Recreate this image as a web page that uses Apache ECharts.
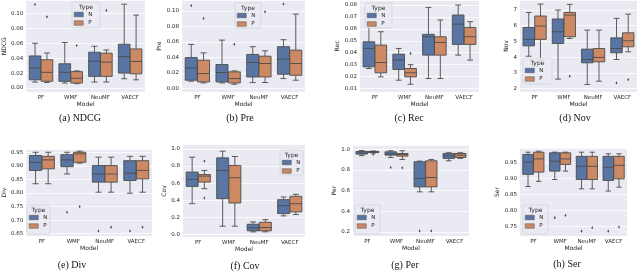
<!DOCTYPE html>
<html><head><meta charset="utf-8">
<script src="https://cdn.jsdelivr.net/npm/echarts@6/dist/echarts.min.js"></script>
<style>html,body{margin:0;padding:0;background:#fff}#c{width:640px;height:274px}</style>
</head><body><div id="c"></div>
<script>
// ---------- DATA ----------
const models = ['PF', 'WMF', 'NeuMF', 'VAECF'];
const hues = ['N', 'P'];
// each row: [min, Q1, median, Q3, max] for PF, WMF, NeuMF, VAECF
const ndcgN = [[0.008,0.011,0.027,0.043,0.060],[0.0067,0.009,0.021,0.0325,0.061],[0.008,0.0156,0.036,0.048,0.056],[0.0124,0.020,0.042,0.0587,0.1124]];
const ndcgP = [[0.0075,0.009,0.021,0.038,0.047],[0.0058,0.0067,0.013,0.022,0.023],[0.008,0.0156,0.0347,0.0467,0.051],[0.011,0.019,0.0356,0.0524,0.0978]];
const ndcgOut = [[0,0,0.112],[0,1,0.0955],[1,1,0.057],[2,1,0.104]];

const preN = [[0.0095,0.0108,0.0267,0.040,0.057],[0.0073,0.0086,0.0207,0.031,0.0625],[0.0078,0.015,0.0336,0.044,0.054],[0.0129,0.0185,0.038,0.054,0.063]];
const preP = [[0.0073,0.0086,0.0194,0.0366,0.046],[0.0056,0.0073,0.0129,0.0216,0.0228],[0.0078,0.015,0.0323,0.0418,0.0487],[0.0108,0.0172,0.0323,0.0496,0.096]];
const preOut = [[0,0,0.107],[0,1,0.0905],[1,1,0.057],[2,1,0.099],[3,0,0.109]];

const recN = [[0.0268,0.0282,0.0436,0.0492,0.066],[0.017,0.026,0.0338,0.0388,0.0436],[0.0184,0.038,0.0534,0.0554,0.078],[0.038,0.047,0.064,0.0716,0.080]];
const recP = [[0.0198,0.0232,0.0318,0.0464,0.0576],[0.0136,0.0198,0.0232,0.0268,0.030],[0.0184,0.038,0.0486,0.0534,0.0674],[0.0338,0.047,0.0534,0.0612,0.066]];
const recOut = [[1,1,0.0394]];

const novN = [[4.06,4.72,5.13,5.89,6.85],[2.6,4.87,5.62,6.43,7.0],[2.26,3.64,3.85,4.51,5.72],[3.85,4.28,4.55,5.23,6.47]];
const novP = [[3.8,5.13,5.98,6.62,7.38],[5.19,5.3,6.68,6.85,7.36],[2.47,3.70,3.98,4.55,5.72],[4.34,4.66,5.04,5.55,6.74]];
const novOut = [[1,1,2.79],[3,0,2.36],[3,1,2.57]];

const divN = [[0.834,0.883,0.913,0.938,0.950],[0.870,0.897,0.922,0.941,0.950],[0.803,0.840,0.870,0.901,0.932],[0.799,0.846,0.873,0.919,0.935]];
const divP = [[0.834,0.889,0.922,0.935,0.950],[0.910,0.913,0.944,0.950,0.954],[0.803,0.840,0.870,0.901,0.932],[0.803,0.852,0.883,0.919,0.935]];
const divOut = [[1,0,0.729],[1,1,0.750],[2,0,0.660],[2,1,0.674],[3,0,0.660],[3,1,0.674]];

const covN = [[0.36,0.562,0.643,0.729,0.903],[0.097,0.419,0.748,0.895,0.973],[0.031,0.043,0.078,0.12,0.147],[0.217,0.244,0.337,0.407,0.438]];
const covP = [[0.535,0.612,0.682,0.70,0.748],[0.097,0.368,0.663,0.806,0.911],[0.031,0.043,0.081,0.143,0.174],[0.233,0.264,0.36,0.446,0.469]];
const covOut = [[0,1,0.857],[0,1,0.426]];

const perN = [[0.94,0.955,0.965,0.98,0.99],[0.922,0.945,0.955,0.977,0.987],[0.589,0.637,0.718,0.88,0.887],[0.89,0.913,0.938,0.961,0.968]];
const perP = [[0.965,0.97,0.975,0.98,0.985],[0.903,0.935,0.951,0.961,0.987],[0.589,0.637,0.728,0.89,0.903],[0.913,0.922,0.945,0.961,0.968]];
const perOut = [[0,1,0.952],[1,0,0.825],[1,1,0.822],[2,0,0.21],[2,1,0.21]];

const serN = [[0.874,0.912,0.95,0.974,0.981],[0.896,0.922,0.953,0.979,0.981],[0.867,0.896,0.937,0.968,0.981],[0.86,0.893,0.934,0.968,0.976]];
const serP = [[0.89,0.919,0.960,0.981,0.984],[0.922,0.943,0.960,0.979,0.981],[0.867,0.896,0.937,0.968,0.981],[0.872,0.898,0.94,0.968,0.976]];
const serOut = [[1,0,0.777],[1,1,0.784],[2,0,0.735],[2,1,0.746],[3,0,0.735],[3,1,0.748]];

// ---------- LAYOUT ----------
const panels = [
  {name:'NDCG', n:ndcgN, p:ndcgP, out:ndcgOut, cap:'(a) NDCG', g:[22,0,123,92.5], y:[-0.006,0.118,6,2], ng:15, lg:[72,2,28,26], cp:[80,118.5]},
  {name:'Pre',  n:preN,  p:preP,  out:preOut,  cap:'(b) Pre',  g:[182,0,123,92], y:[-0.0044,0.1142,6,2], ng:16, lg:[235,3,26,25], cp:[240,118.5]},
  {name:'Rec',  n:recN,  p:recP,  out:recOut,  cap:'(c) Rec',  g:[360,0,119,92], y:[0.0071,0.0842,7,2], ng:18, lg:[365,3,27,25], cp:[409,118.5]},
  {name:'Nov',  n:novN,  p:novP,  out:novOut,  cap:'(d) Nov',  g:[520,0,117,92], y:[1.78,7.64,6,0], ng:7, lg:[523,58,29,26], cp:[575,118.5]},
  {name:'Div',  n:divN,  p:divP,  out:divOut,  cap:'(e) Div',  g:[23,149,129,87], y:[0.6416,0.962,6,2], ng:16, lg:[27,205,23,29], cp:[72,265]},
  {name:'Cov',  n:covN,  p:covP,  out:covOut,  cap:'(f) Cov',  g:[183,144.5,122,93], y:[-0.035,1.051,5,1], ng:12, lg:[280,150,23,25], cp:[245,266]},
  {name:'Per',  n:perN,  p:perP,  out:perOut,  cap:'(g) Per',  g:[353,145,116,91], y:[0.161,1.043,4,1], ng:13, lg:[355,205,25,29], cp:[405,265]},
  {name:'Ser',  n:serN,  p:serP,  out:serOut,  cap:'(h) Ser',  g:[520,148,107,88], y:[0.72,0.994,5,2], ng:15, lg:[523,205,25,29], cp:[567,264]}
];

const fillN = '#5875a4', fillP = '#cc8963', edge = '#4c4c4c';
const textCol = '#262626';
const sans = 'DejaVu Sans';

function boxRender(fill) {
  return function (params, api) {
    const cat = api.value(0), hue = api.value(1);
    const band = api.size([1, 0])[0];
    const cx = api.coord([cat, api.value(2)])[0] + (hue ? 0.2 : -0.2) * band;
    const hw = 0.196 * band;
    const ys = [2, 3, 4, 5, 6].map(i => api.coord([cat, api.value(i)])[1]);
    const ls = {stroke: edge, lineWidth: 0.9};
    return {type: 'group', children: [
      {type: 'line', shape: {x1: cx, y1: ys[3], x2: cx, y2: ys[4]}, style: ls},
      {type: 'line', shape: {x1: cx, y1: ys[1], x2: cx, y2: ys[0]}, style: ls},
      {type: 'line', shape: {x1: cx - hw / 2, y1: ys[4], x2: cx + hw / 2, y2: ys[4]}, style: ls},
      {type: 'line', shape: {x1: cx - hw / 2, y1: ys[0], x2: cx + hw / 2, y2: ys[0]}, style: ls},
      {type: 'rect', shape: {x: cx - hw, y: ys[3], width: 2 * hw, height: ys[1] - ys[3]}, style: {fill: fill, stroke: edge, lineWidth: 0.9}},
      {type: 'line', shape: {x1: cx - hw, y1: ys[2], x2: cx + hw, y2: ys[2]}, style: ls}
    ]};
  };
}
function outRender(params, api) {
  const cat = api.value(0), hue = api.value(1);
  const band = api.size([1, 0])[0];
  const p = api.coord([cat, api.value(2)]);
  const cx = p[0] + (hue ? 0.2 : -0.2) * band, cy = p[1];
  return {type: 'polygon', shape: {points: [[cx, cy - 1.6], [cx + 1.0, cy], [cx, cy + 1.6], [cx - 1.0, cy]]}, style: {fill: edge}};
}

const grid = [], xAxis = [], yAxis = [], series = [], legend = [], graphic = [];
panels.forEach((pn, i) => {
  grid.push({left: pn.g[0], top: pn.g[1], width: pn.g[2], height: pn.g[3], show: true,
    backgroundColor: '#eaeaf2', borderWidth: 0});
  xAxis.push({gridIndex: i, type: 'category', data: models,
    axisLine: {show: false}, axisTick: {show: false}, splitLine: {show: false},
    axisLabel: {fontSize: 5.5, margin: 2.5, color: textCol, fontFamily: sans},
    name: 'Model', nameLocation: 'middle', nameGap: 9,
    nameTextStyle: {fontSize: 6, color: textCol, fontFamily: sans}});
  const dec = pn.y[3];
  yAxis.push({gridIndex: i, type: 'value', min: pn.y[0], max: pn.y[1], splitNumber: pn.y[2],
    axisLine: {show: false}, axisTick: {show: false},
    splitLine: {show: true, lineStyle: {color: '#ffffff', width: 0.8}},
    axisLabel: {fontSize: 5.5, margin: 3, color: textCol, fontFamily: sans,
      showMinLabel: false, showMaxLabel: false, formatter: v => v.toFixed(dec)},
    name: pn.name, nameLocation: 'middle', nameGap: pn.ng,
    nameTextStyle: {fontSize: 6, color: textCol, fontFamily: sans}});
  [pn.n, pn.p].forEach((arr, h) => {
    series.push({type: 'custom', name: hues[h], xAxisIndex: i, yAxisIndex: i,
      itemStyle: {color: h ? fillP : fillN},
      renderItem: boxRender(h ? fillP : fillN),
      encode: {x: 0, y: [2, 3, 4, 5, 6]},
      data: arr.map((b, c) => [c, h].concat(b)), z: 2});
  });
  series.push({type: 'custom', name: 'outliers', xAxisIndex: i, yAxisIndex: i,
    renderItem: outRender, encode: {x: 0, y: 2}, data: pn.out, z: 3});
  const L = pn.lg;
  graphic.push({type: 'rect', z: 50, shape: {x: L[0], y: L[1], width: L[2], height: L[3], r: 1.5},
    style: {fill: 'rgba(234,234,242,0.85)', stroke: '#cfcfd6', lineWidth: 0.6}});
  graphic.push({type: 'text', z: 51, x: L[0] + L[2] / 2, y: L[1] + 5.5,
    style: {text: 'Type', fontSize: 6, fontFamily: sans, fill: textCol, align: 'center', verticalAlign: 'middle'}});
  legend.push({left: L[0] + 2, top: L[1] + 9.5, orient: 'vertical', z: 60,
    itemWidth: 9, itemHeight: 4.5, itemGap: 2.5, padding: 0, selectedMode: false,
    textStyle: {fontSize: 5.5, color: textCol, fontFamily: sans},
    itemStyle: {borderColor: edge, borderWidth: 0.5},
    data: [{name: 'N', icon: 'rect'}, {name: 'P', icon: 'rect'}]});
  graphic.push({type: 'text', x: pn.cp[0], y: pn.cp[1],
    style: {text: pn.cap, fontSize: 10, fontFamily: 'Liberation Serif', fill: '#111', align: 'center', verticalAlign: 'middle'}});
});

const chart = echarts.init(document.getElementById('c'), null, {renderer: 'canvas'});
chart.setOption({animation: false, grid, xAxis, yAxis, series, legend, graphic});
</script>
</body></html>
